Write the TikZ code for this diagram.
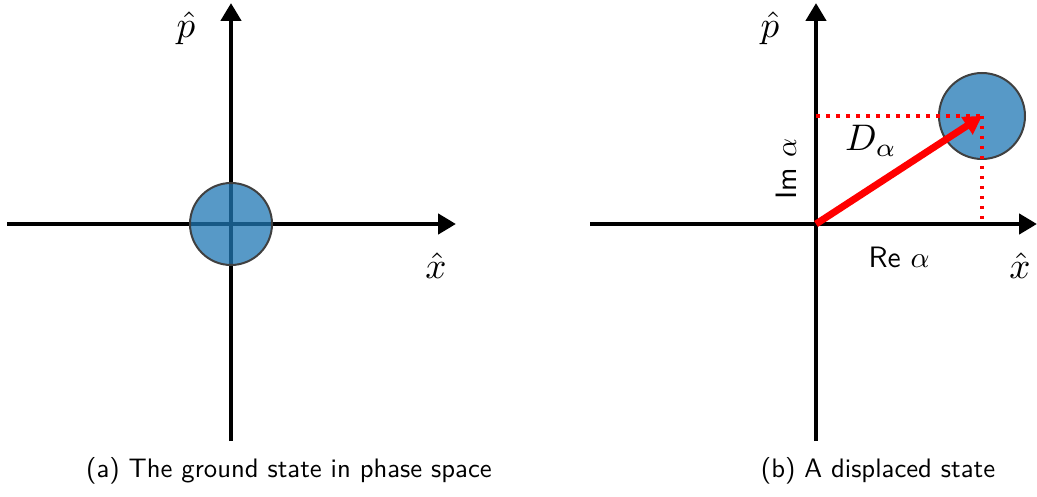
\documentclass[tikz,border=0pt]{standalone}
\usetikzlibrary{arrows.meta}
\begin{document}
\begin{tikzpicture}[x=1pt,y=-1pt,
  axis/.style={line width=4.7pt,-{Triangle[length=18pt,width=20pt]}},
  blob/.style={circle,draw=black!75,line width=2pt,fill={rgb,255:red,31;green,119;blue,180},fill opacity=0.75,draw opacity=1,inner sep=0pt},
  dotline/.style={red,line width=3.5pt,dash pattern=on 3.5pt off 6.5pt},
  lbl/.style={font=\normalsize,scale=3.7,inner sep=0pt},
  captext/.style={font=\sffamily\normalsize,scale=2.67,inner sep=0pt},
  small/.style={font=\sffamily\normalsize,scale=2.95,inner sep=0pt}]
\useasboundingbox (0,0) rectangle (1037,497);
% panel (a)
\coordinate (aL) at (7,224);
\coordinate (aR) at (456,224);
\coordinate (aB) at (231,441);
\coordinate (aT) at (231,3);
\draw[axis] (aL) -- (aR);
\draw[axis] (aB) -- (aT);
\node[blob,minimum size=82pt] (ca) at (231,224) {};
\node[lbl] (pa) at (186,28) {$\hat{p}$};
\node[lbl] (xa) at (436,266) {$\hat{x}$};
\node[captext] (capa) at (289,471) {(a) The ground state in phase space};
% panel (b)
\coordinate (bL) at (590,224);
\coordinate (bR) at (1037,224);
\coordinate (bB) at (816,441);
\coordinate (bT) at (816,3);
\coordinate (O) at (816,224);
\coordinate (P) at (982,116);
\coordinate (Py) at (816,116);
\coordinate (Px) at (982,224);
\draw[axis] (bL) -- (bR);
\draw[axis] (bB) -- (bT);
\node[blob,minimum size=86pt] (cb) at (982,116) {};
\draw[dotline] (Py) -- (P);
\draw[dotline] (P) -- (Px);
\draw[red,line width=7pt,-{Triangle[length=18pt,width=20pt]}] (O) -- (P);
\node[lbl] (D) at (871,141) {$D_\alpha$};
\node[small,rotate=90] (im) at (786,169) {Im $\alpha$};
\node[small] (re) at (899,257) {Re $\alpha$};
\node[lbl] (pb) at (770,28) {$\hat{p}$};
\node[lbl] (xb) at (1020,266) {$\hat{x}$};
\node[captext] (capb) at (878,471) {(b) A displaced state};
\end{tikzpicture}
\end{document}
